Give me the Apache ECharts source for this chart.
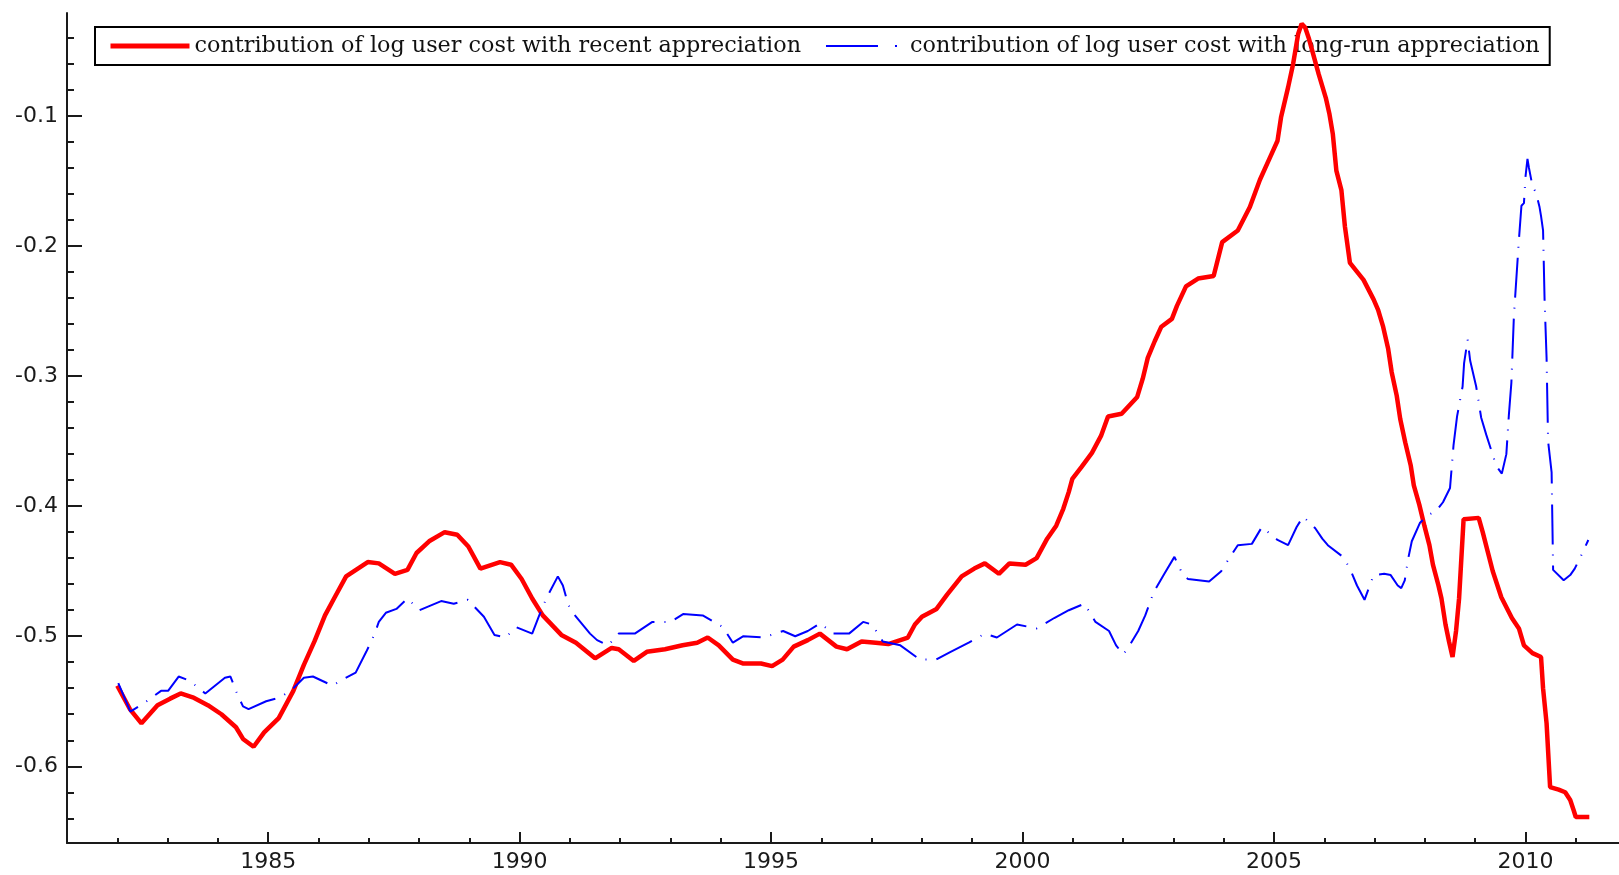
<!DOCTYPE html>
<html>
<head>
<meta charset="utf-8">
<title>user cost contribution</title>
<script src="https://cdn.jsdelivr.net/npm/echarts@6.0.0/dist/echarts.min.js"></script>
<style>
  html, body { margin: 0; padding: 0; background: #fff; }
  #chart { width: 1619px; height: 875px; }
</style>
</head>
<body>
<div id="chart"></div>
<script>
  // series names
  const recentName = 'contribution of log user cost with recent appreciation'
  const longRunName = 'contribution of log user cost with long-run appreciation'

  // recent appreciation (red)
  const recentYears = [
    1982.0, 1982.25, 1982.48, 1982.8, 1983.05, 1983.26, 1983.5, 1983.8, 1984.07, 1984.36,
    1984.5, 1984.71, 1984.92, 1985.21, 1985.5, 1985.71, 1985.92, 1986.13, 1986.31, 1986.55,
    1986.98, 1987.2, 1987.52, 1987.77, 1987.95, 1988.2, 1988.51, 1988.76, 1988.98, 1989.22,
    1989.61, 1989.83, 1990.04, 1990.25, 1990.46, 1990.83, 1991.12, 1991.5, 1991.83, 1991.97,
    1992.27, 1992.53, 1992.89, 1993.24, 1993.53, 1993.74, 1993.96, 1994.24, 1994.45, 1994.8,
    1995.02, 1995.23, 1995.45, 1995.73, 1995.97, 1996.3, 1996.51, 1996.8, 1997.08, 1997.33,
    1997.72, 1997.86, 1998.0, 1998.29, 1998.5, 1998.79, 1999.04, 1999.25, 1999.53, 1999.74,
    2000.06, 2000.28, 2000.49, 2000.67, 2000.81, 2000.92, 2000.99, 2001.17, 2001.38, 2001.56,
    2001.7, 2001.97, 2002.28, 2002.39, 2002.49, 2002.63, 2002.76, 2002.97, 2003.07, 2003.25,
    2003.49, 2003.8, 2003.97, 2004.28, 2004.52, 2004.72, 2004.93, 2005.07, 2005.14, 2005.28,
    2005.38, 2005.48, 2005.55, 2005.62, 2005.69, 2005.89, 2006.03, 2006.1, 2006.17, 2006.24,
    2006.34, 2006.41, 2006.51, 2006.78, 2006.98, 2007.07, 2007.17, 2007.27, 2007.34, 2007.44,
    2007.51, 2007.61, 2007.72, 2007.78, 2007.89, 2007.99, 2008.09, 2008.16, 2008.27, 2008.33,
    2008.41, 2008.48, 2008.55, 2008.62, 2008.68, 2008.77, 2009.07, 2009.15, 2009.35, 2009.52,
    2009.73, 2009.87, 2009.97, 2010.14, 2010.31, 2010.35, 2010.42, 2010.49, 2010.66, 2010.79,
    2010.89, 2010.96, 2011.0, 2011.27
  ]
  const recentValues = [
    -0.538, -0.556, -0.567, -0.553, -0.548, -0.544, -0.547, -0.553, -0.560, -0.570,
    -0.579, -0.585, -0.574, -0.563, -0.542, -0.522, -0.504, -0.484, -0.471, -0.454,
    -0.443, -0.444, -0.452, -0.449, -0.436, -0.427, -0.420, -0.422, -0.431, -0.448,
    -0.443, -0.445, -0.456, -0.471, -0.484, -0.499, -0.505, -0.517, -0.509, -0.510,
    -0.519, -0.512, -0.510, -0.507, -0.505, -0.501, -0.507, -0.518, -0.521, -0.521,
    -0.523, -0.518, -0.508, -0.503, -0.498, -0.508, -0.510, -0.504, -0.505, -0.506,
    -0.501, -0.491, -0.485, -0.479, -0.468, -0.454, -0.448, -0.444, -0.452, -0.444,
    -0.445, -0.440, -0.425, -0.415, -0.402, -0.389, -0.379, -0.370, -0.359, -0.346,
    -0.331, -0.329, -0.316, -0.302, -0.286, -0.273, -0.262, -0.256, -0.246, -0.231,
    -0.225, -0.223, -0.197, -0.188, -0.170, -0.149, -0.131, -0.119, -0.101, -0.078,
    -0.060, -0.037, -0.029, -0.032, -0.040, -0.068, -0.086, -0.098, -0.114, -0.142,
    -0.157, -0.185, -0.213, -0.226, -0.241, -0.249, -0.262, -0.279, -0.297, -0.315,
    -0.333, -0.351, -0.369, -0.384, -0.399, -0.415, -0.430, -0.445, -0.461, -0.471,
    -0.491, -0.504, -0.516, -0.496, -0.471, -0.410, -0.409, -0.420, -0.450, -0.470,
    -0.486, -0.494, -0.507, -0.513, -0.516, -0.540, -0.567, -0.616, -0.618, -0.620,
    -0.626, -0.634, -0.639, -0.639
  ]

  // long-run appreciation (blue, dash-dot)
  const longRunYears = [
    1982.02, 1982.26, 1982.55, 1982.87, 1983.01, 1983.22, 1983.43, 1983.75, 1984.14, 1984.25,
    1984.39, 1984.5, 1984.61, 1984.96, 1985.25, 1985.5, 1985.71, 1985.89, 1986.28, 1986.49,
    1986.74, 1986.95, 1987.11, 1987.2, 1987.34, 1987.55, 1987.77, 1988.01, 1988.19, 1988.44,
    1988.69, 1988.97, 1989.29, 1989.5, 1989.72, 1989.93, 1990.25, 1990.39, 1990.53, 1990.76,
    1990.86, 1990.97, 1991.12, 1991.4, 1991.54, 1991.76, 1991.97, 1992.29, 1992.64, 1993.0,
    1993.25, 1993.64, 1994.04, 1994.24, 1994.45, 1994.84, 1995.24, 1995.48, 1995.73, 1995.98,
    1996.23, 1996.55, 1996.83, 1997.01, 1997.22, 1997.57, 1997.96, 1998.28, 1998.57, 1998.93,
    1999.25, 1999.49, 1999.89, 2000.28, 2000.63, 2000.92, 2001.23, 2001.45, 2001.72, 2001.86,
    2002.0, 2002.1, 2002.3, 2002.44, 2002.61, 2002.82, 2003.02, 2003.19, 2003.29, 2003.71,
    2003.95, 2004.11, 2004.28, 2004.56, 2004.76, 2005.07, 2005.28, 2005.45, 2005.58, 2005.82,
    2005.96, 2006.07, 2006.37, 2006.51, 2006.65, 2006.8, 2006.98, 2007.19, 2007.32, 2007.46,
    2007.53, 2007.6, 2007.67, 2007.74, 2007.9, 2008.05, 2008.22, 2008.36, 2008.5, 2008.57,
    2008.64, 2008.75, 2008.78, 2008.85, 2008.9, 2009.02, 2009.12, 2009.22, 2009.32, 2009.42,
    2009.53, 2009.62, 2009.67, 2009.72, 2009.77, 2009.87, 2009.92, 2009.97, 2010.0, 2010.04,
    2010.07, 2010.14, 2010.21, 2010.28, 2010.31, 2010.35, 2010.38, 2010.42, 2010.45, 2010.52,
    2010.55, 2010.76, 2010.89, 2010.98, 2011.12, 2011.25
  ]
  const longRunValues = [
    -0.536, -0.558, -0.551, -0.542, -0.542, -0.531, -0.534, -0.544, -0.532, -0.531,
    -0.545, -0.554, -0.556, -0.550, -0.547, -0.540, -0.532, -0.531, -0.538, -0.533,
    -0.528, -0.512, -0.499, -0.489, -0.482, -0.479, -0.471, -0.480, -0.477, -0.473,
    -0.475, -0.472, -0.485, -0.499, -0.501, -0.493, -0.498, -0.484, -0.471, -0.454,
    -0.461, -0.476, -0.485, -0.498, -0.503, -0.507, -0.498, -0.498, -0.489, -0.489,
    -0.483, -0.484, -0.493, -0.505, -0.500, -0.501, -0.496, -0.500, -0.496, -0.490,
    -0.498, -0.498, -0.489, -0.491, -0.504, -0.507, -0.518, -0.518, -0.512, -0.505,
    -0.498, -0.501, -0.491, -0.494, -0.486, -0.480, -0.475, -0.489, -0.496, -0.507,
    -0.514, -0.509, -0.496, -0.484, -0.466, -0.452, -0.439, -0.453, -0.456, -0.458,
    -0.450, -0.440, -0.430, -0.429, -0.416, -0.426, -0.430, -0.416, -0.408, -0.417,
    -0.425, -0.430, -0.439, -0.448, -0.461, -0.472, -0.453, -0.452, -0.453, -0.461,
    -0.463, -0.457, -0.440, -0.427, -0.413, -0.407, -0.404, -0.397, -0.386, -0.353,
    -0.331, -0.308, -0.290, -0.272, -0.288, -0.308, -0.332, -0.345, -0.357, -0.369,
    -0.375, -0.360, -0.330, -0.305, -0.254, -0.195, -0.169, -0.167, -0.147, -0.133,
    -0.140, -0.154, -0.159, -0.170, -0.177, -0.188, -0.241, -0.286, -0.350, -0.374,
    -0.449, -0.457, -0.453, -0.448, -0.437, -0.426
  ]

  // tick marks
  const xMajorTicks = [1985, 1990, 1995, 2000, 2005, 2010]
  const xMinorTicks = [
    1982, 1983, 1984, 1986, 1987, 1988, 1989, 1991, 1992, 1993, 1994, 1996, 1997, 1998, 1999,
    2001, 2002, 2003, 2004, 2006, 2007, 2008, 2009, 2011
  ]
  const yMajorTicks = [-0.6, -0.5, -0.4, -0.3, -0.2, -0.1]
  const yMinorTicks = [
    -0.64, -0.62, -0.58, -0.56, -0.54, -0.52, -0.48, -0.46, -0.44, -0.42, -0.38, -0.36,
    -0.34, -0.32, -0.28, -0.26, -0.24, -0.22, -0.18, -0.16, -0.14, -0.12, -0.08, -0.06, -0.04
  ]

  const xRange = [1981.0, 2011.86]
  const yRange = [-0.659, -0.0208]

  const zip = (xs, ys) => xs.map((x, i) => [x, ys[i]])
  const axisColor = '#1a1a1a'
  const labelFont = { fontFamily: 'DejaVu Sans', fontSize: 22, color: '#1a1a1a' }

  const chart = echarts.init(document.getElementById('chart'))
  chart.setOption({
    animation: false,
    grid: { left: 67, right: 0, top: 13, bottom: 32, outerBoundsMode: 'none' },
    legend: {
      left: 95,
      top: 27,
      z: 1,
      orient: 'horizontal',
      padding: [8, 10, 8, 13],
      borderColor: '#000',
      borderWidth: 2,
      itemGap: 24,
      itemWidth: 79,
      itemHeight: 16,
      textStyle: { fontFamily: 'DejaVu Serif', fontSize: 22.3, color: '#111' },
      // line only, no symbol in the middle
      itemStyle: { opacity: 0 },
      data: [
        { name: recentName, lineStyle: { width: 5 } },
        { name: longRunName, lineStyle: { type: [52, 17, 2, 20], width: 2 } }
      ]
    },
    xAxis: [
      {
        type: 'value',
        min: xRange[0],
        max: xRange[1],
        splitLine: { show: false },
        axisLine: { lineStyle: { color: axisColor, width: 2 } },
        axisTick: { inside: true, length: 11, customValues: xMajorTicks, lineStyle: { color: axisColor, width: 2 } },
        axisLabel: { ...labelFont, margin: 8, customValues: xMajorTicks, formatter: (v) => String(v) }
      },
      {
        type: 'value',
        position: 'bottom',
        min: xRange[0],
        max: xRange[1],
        splitLine: { show: false },
        axisLine: { show: false },
        axisLabel: { show: false },
        axisTick: { inside: true, length: 5, customValues: xMinorTicks, lineStyle: { color: axisColor, width: 2 } }
      }
    ],
    yAxis: [
      {
        type: 'value',
        min: yRange[0],
        max: yRange[1],
        splitLine: { show: false },
        axisLine: { show: true, lineStyle: { color: axisColor, width: 2 } },
        axisTick: { show: true, inside: true, length: 15, customValues: yMajorTicks, lineStyle: { color: axisColor, width: 2 } },
        axisLabel: { ...labelFont, margin: 9, customValues: yMajorTicks, formatter: (v) => v.toFixed(1) }
      },
      {
        type: 'value',
        position: 'left',
        min: yRange[0],
        max: yRange[1],
        splitLine: { show: false },
        axisLine: { show: false },
        axisLabel: { show: false },
        axisTick: { show: true, inside: true, length: 7, customValues: yMinorTicks, lineStyle: { color: axisColor, width: 2 } }
      }
    ],
    series: [
      {
        name: recentName,
        type: 'line',
        z: 3,
        showSymbol: false,
        symbol: 'none',
        data: zip(recentYears, recentValues),
        lineStyle: { color: '#ff0000', width: 4.5 },
        itemStyle: { color: '#ff0000' }
      },
      {
        name: longRunName,
        type: 'line',
        z: 3,
        showSymbol: false,
        symbol: 'none',
        data: zip(longRunYears, longRunValues),
        lineStyle: { color: '#0000ff', width: 2, type: [40, 10, 1, 10] },
        itemStyle: { color: '#0000ff' }
      }
    ]
  })
</script>
</body>
</html>
